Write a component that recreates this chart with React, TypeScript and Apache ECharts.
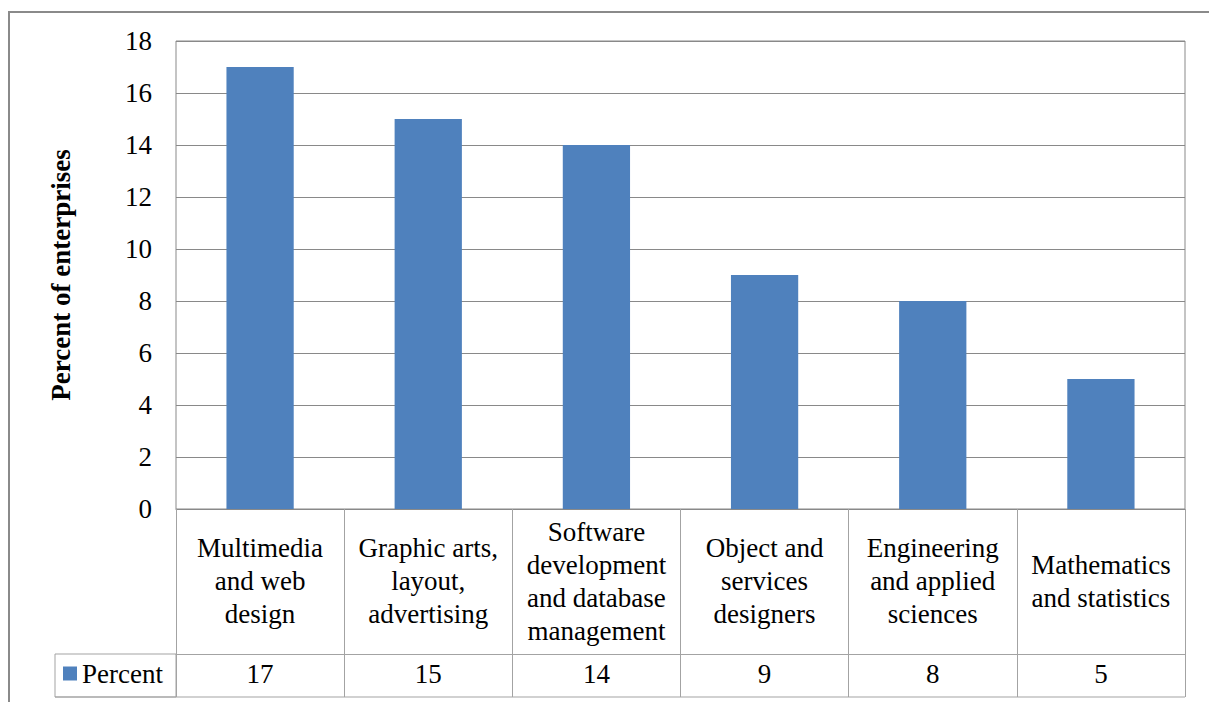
import React, { useEffect, useRef } from "react";
import * as echarts from "echarts";

const categories = [
  "Multimedia\nand web\ndesign",
  "Graphic arts,\nlayout,\nadvertising",
  "Software\ndevelopment\nand database\nmanagement",
  "Object and\nservices\ndesigners",
  "Engineering\nand applied\nsciences",
  "Mathematics\nand statistics",
];
const percentValues = [17, 15, 14, 9, 8, 5];
const seriesName = "Percent";
const yAxisTitle = "Percent of enterprises";
const yMin = 0;
const yMax = 18;
const yStep = 2;

const FONT = "'Liberation Serif', 'Times New Roman', serif";
const GRID_COLOR = "#898989";
const TABLE_COLOR = "#a3a3a3";

export default function App() {
  const ref = useRef<HTMLDivElement>(null);
  useEffect(() => {
    if (!ref.current) return;
    const chart = echarts.init(ref.current, null, { renderer: "svg" });
    chart.setOption({
      animation: false,
      backgroundColor: "#ffffff",
      textStyle: { fontFamily: FONT },
      grid: {
        left: 176,
        right: 24,
        top: 41,
        bottom: 193,
        show: true,
        borderColor: GRID_COLOR,
        borderWidth: 1,
      },
      legend: {
        data: [seriesName],
        left: 63,
        top: 660,
        padding: 0,
        itemWidth: 14,
        itemHeight: 14,
        itemGap: 6,
        icon: "rect",
        textStyle: { fontFamily: FONT, fontSize: 27, color: "#000", padding: [0, 0, 6, 0] },
      },
      xAxis: [
        {
          type: "category",
          data: categories,
          position: "bottom",
          axisLine: { show: true, lineStyle: { color: GRID_COLOR, width: 1 } },
          axisTick: {
            show: true,
            length: 188,
            interval: 0,
            lineStyle: { color: TABLE_COLOR, width: 1 },
          },
          axisLabel: {
            interval: 0,
            margin: 72,
            verticalAlign: "middle",
            align: "center",
            fontFamily: FONT,
            fontSize: 27,
            lineHeight: 33,
            color: "#000",
          },
        },
        {
          type: "category",
          data: percentValues.map((v) => String(v)),
          position: "bottom",
          offset: 145,
          axisLine: { show: true, lineStyle: { color: TABLE_COLOR, width: 1 } },
          axisTick: { show: false },
          axisLabel: {
            interval: 0,
            margin: 20,
            verticalAlign: "middle",
            fontFamily: FONT,
            fontSize: 27,
            color: "#000",
          },
        },
      ],
      yAxis: {
        type: "value",
        min: yMin,
        max: yMax,
        interval: yStep,
        name: yAxisTitle,
        nameLocation: "middle",
        nameGap: 102,
        nameRotate: 90,
        nameTextStyle: {
          fontFamily: FONT,
          fontSize: 27,
          fontWeight: "bold",
          color: "#000",
        },
        axisLine: { show: false },
        axisTick: { show: false },
        axisLabel: {
          margin: 24,
          fontFamily: FONT,
          fontSize: 27,
          color: "#000",
        },
        splitLine: { show: true, lineStyle: { color: GRID_COLOR, width: 1 } },
      },
      series: [
        {
          name: seriesName,
          type: "bar",
          xAxisIndex: 0,
          data: percentValues,
          barWidth: "40%",
          itemStyle: { color: "#4F81BD" },
        },
      ],
      graphic: [
        {
          type: "rect",
          shape: { x: 9, y: 12, width: 1300, height: 800 },
          style: { fill: "none", stroke: "#8a8a8a", lineWidth: 2 },
          silent: true,
        },
        {
          type: "rect",
          shape: { x: 55, y: 654, width: 121, height: 43 },
          style: { fill: "none", stroke: TABLE_COLOR, lineWidth: 1 },
          silent: true,
        },
        {
          type: "line",
          shape: { x1: 55, y1: 697, x2: 1185, y2: 697 },
          style: { stroke: TABLE_COLOR, lineWidth: 1 },
          silent: true,
        },
      ],
    });
    return () => chart.dispose();
  }, []);
  return (
    <div
      ref={ref}
      style={{ position: "fixed", left: 0, top: 0, width: 1209, height: 702 }}
    />
  );
}
